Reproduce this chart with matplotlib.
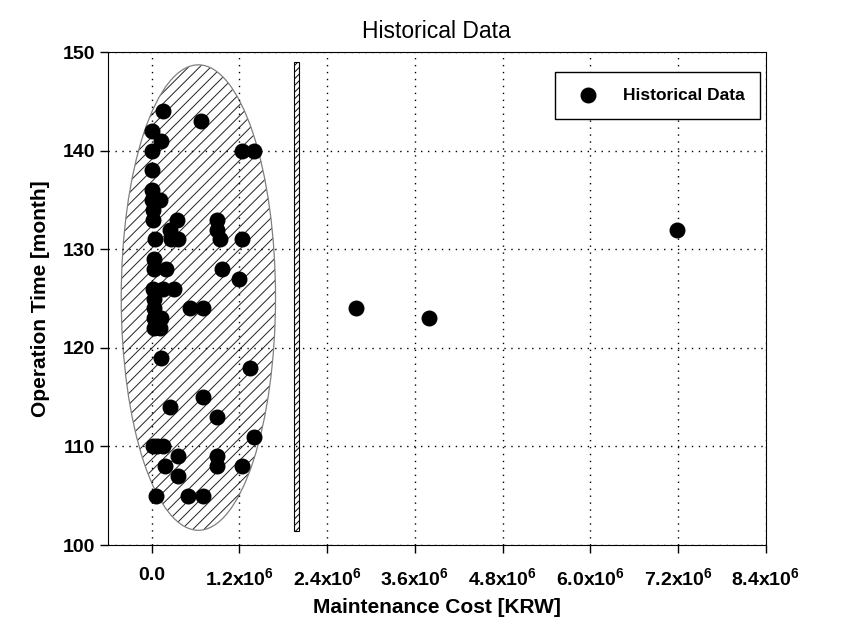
import numpy as np
import matplotlib.pyplot as plt
from matplotlib.patches import Ellipse, Rectangle

plt.rcParams['font.family'] = ['Liberation Sans', 'DejaVu Sans']
plt.rcParams['mathtext.fontset'] = 'custom'
plt.rcParams['mathtext.rm'] = 'Liberation Sans'
plt.rcParams['mathtext.bf'] = 'Liberation Sans:bold'
plt.rcParams['hatch.linewidth'] = 0.7

# maintenance cost [x1e6 KRW] and operation time [month]
cost = [0.15, 0.67, 0.0, 0.13, 0.0, 1.23, 1.40, 0.0, 0.0,
        0.0, 0.11, 0.02, 0.02, 0.35, 0.90, 0.90, 0.25,
        0.05, 0.26, 0.36, 0.93, 1.23, 0.03, 0.03, 0.20, 0.96, 1.20,
        0.02, 0.15, 0.31, 0.04, 0.04, 0.52, 0.70, 0.04, 0.13, 0.04, 0.12,
        0.13, 1.35, 0.70, 0.25, 0.90, 1.40,
        0.02, 0.08, 0.16, 0.36, 0.90, 0.19, 0.90, 1.23, 0.36,
        0.06, 0.50, 0.70,
        2.80, 3.79, 7.19]
time = [144, 143, 142, 141, 140, 140, 140, 138, 136,
        135, 135, 134, 133, 133, 133, 132, 132,
        131, 131, 131, 131, 131, 129, 128, 128, 128, 127,
        126, 126, 126, 125, 124, 124, 124, 123, 123, 122, 122,
        119, 118, 115, 114, 113, 111,
        110, 110, 110, 109, 109, 108, 108, 108, 107,
        105, 105, 105,
        124, 123, 132]

xticks = [0.0, 1.2, 2.4, 3.6, 4.8, 6.0, 7.2, 8.4]
xticklabels = ['0.0'] + [r'$\mathbf{%.1fx10^{6}}$' % v for v in xticks[1:]]
yticks = [100, 110, 120, 130, 140, 150]

fig = plt.figure(figsize=(8.5, 6.39), dpi=100)
ax = fig.add_axes([0.1267, 0.147, 0.7743, 0.7716])

# hatched region: hatch takes the edge colour, outline drawn separately in gray
ax.add_patch(Ellipse((0.64e6, 125.1), 2.11e6, 47.2, facecolor='white',
                     edgecolor='#222222', linewidth=0, hatch='///', zorder=1))
ax.add_patch(Ellipse((0.64e6, 125.1), 2.11e6, 47.2, facecolor='none',
                     edgecolor='gray', linewidth=0.9, zorder=1))
ax.add_patch(Rectangle((1.95e6, 101.4), 0.07e6, 47.6, facecolor='white',
                       edgecolor='black', hatch='/////', linewidth=0.8, zorder=1))

ax.scatter(np.array(cost) * 1e6, time, s=110, color='black', zorder=3,
           label='Historical Data')

ax.set_xlim(-0.6e6, 8.4e6)
ax.set_ylim(100, 150)
ax.set_xticks(np.array(xticks) * 1e6)
ax.set_xticklabels(xticklabels)
ax.set_yticks(yticks)
for lab in ax.get_xticklabels() + ax.get_yticklabels():
    lab.set_fontweight('bold')
    lab.set_fontsize(14)
ax.tick_params(direction='out', length=6, width=1)
ax.tick_params(axis='x', pad=10)
ax.tick_params(axis='y', pad=3)
ax.grid(True, color='black', linestyle=(0, (1, 4)), linewidth=1, zorder=2)
ax.set_axisbelow(False)

ax.set_title('Historical Data', fontsize=16.5, pad=10)
ax.set_xlabel('Maintenance Cost [KRW]', fontsize=15, fontweight='bold', labelpad=6)
ax.set_ylabel('Operation Time [month]', fontsize=15, fontweight='bold', labelpad=9)

leg = ax.legend(loc='upper right', bbox_to_anchor=(0.991, 0.959), borderaxespad=0,
                fancybox=False, edgecolor='black', framealpha=1, borderpad=0.9,
                handletextpad=1.0, prop={'weight': 'bold', 'size': 12.5})
leg.get_frame().set_linewidth(1)

fig.savefig('out.png', dpi=100)
